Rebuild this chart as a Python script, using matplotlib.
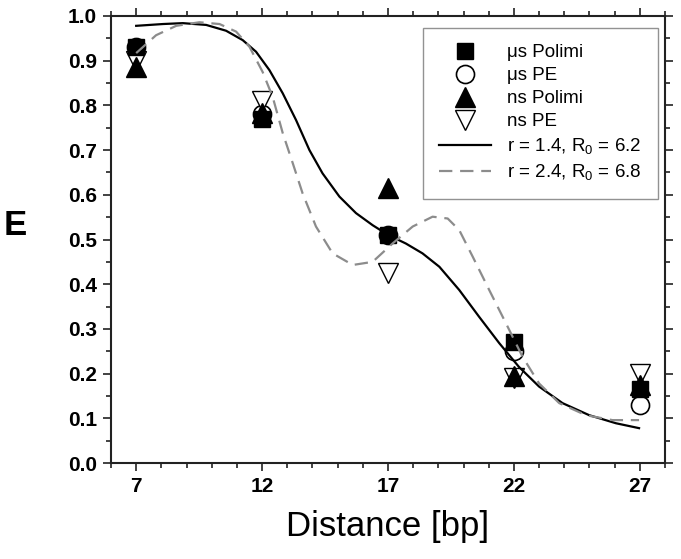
import numpy as np
import matplotlib
matplotlib.use("Agg")
import matplotlib.pyplot as plt
from matplotlib.ticker import MultipleLocator

plt.rcParams['font.family'] = ['Liberation Sans', 'DejaVu Sans']
plt.rcParams['mathtext.fontset'] = 'custom'
plt.rcParams['mathtext.rm'] = 'Liberation Sans'

# measured FRET efficiencies
distance = [7, 12, 17, 22, 27]
us_polimi = [0.93, 0.77, 0.51, 0.27, 0.165]
us_pe = [0.93, 0.78, 0.51, 0.25, 0.13]
ns_polimi = [0.885, 0.783, 0.615, 0.195, 0.175]
ns_pe = [0.90, 0.81, 0.425, 0.19, 0.20]

# model curves
fit1_x = [7, 8.06, 8.85, 9.78, 10.57, 11.23, 11.76, 12.29, 12.82, 13.35,
          13.88, 14.4, 15.07, 15.73, 16.39, 17.01, 17.71, 18.37, 19.04, 19.83,
          20.62, 21.42, 22.2, 23.0, 23.93, 24.99, 26.05, 26.97]
fit1_y = [0.978, 0.982, 0.984, 0.980, 0.967, 0.946, 0.920, 0.879, 0.827,
          0.767, 0.700, 0.648, 0.596, 0.559, 0.532, 0.510, 0.491, 0.469,
          0.439, 0.387, 0.327, 0.268, 0.215, 0.171, 0.134, 0.107, 0.089,
          0.078]
fit2_x = [7, 7.79, 8.59, 9.51, 10.31, 10.97, 11.5, 12.02, 12.42, 12.82, 13.21,
          13.61, 14.14, 14.8, 15.6, 16.39, 17.18, 17.98, 18.77, 19.37, 19.83,
          20.36, 21.02, 21.68, 22.34, 23.0, 23.8, 24.86, 25.91, 26.97]
fit2_y = [0.917, 0.957, 0.978, 0.986, 0.982, 0.965, 0.931, 0.875, 0.819,
          0.738, 0.672, 0.603, 0.529, 0.469, 0.443, 0.450, 0.491, 0.529,
          0.551, 0.547, 0.521, 0.462, 0.387, 0.313, 0.238, 0.178, 0.134,
          0.107, 0.096, 0.096]

fig = plt.figure(figsize=(6.81, 5.59), dpi=100)
ax = fig.add_axes([0.163, 0.1717, 0.8135, 0.7997])

ms = 13
ax.plot(distance, us_pe, 'o', ms=ms, mfc='white', mec='black', mew=1.2,
        ls='none', label='μs PE', zorder=3)
ax.plot(distance, ns_pe, 'v', ms=ms + 1, mfc='white', mec='black', mew=1.0,
        ls='none', label='ns PE', zorder=3)
ax.plot(distance, us_polimi, 's', ms=ms - 1, mfc='black', mec='black',
        ls='none', label='μs Polimi', zorder=4)
ax.plot(distance, ns_polimi, '^', ms=ms + 1, mfc='black', mec='black',
        ls='none', label='ns Polimi', zorder=4)
ax.plot(fit1_x, fit1_y, '-', color='black', lw=1.6,
        label=r'r = 1.4, R$_\mathregular{0}$ = 6.2', zorder=5)
ax.plot(fit2_x, fit2_y, '--', color='#8c8c8c', lw=1.6, dashes=(6, 3.5),
        label=r'r = 2.4, R$_\mathregular{0}$ = 6.8', zorder=5)

ax.set_xlim(6, 28)
ax.set_ylim(0, 1.0)
ax.xaxis.set_minor_locator(MultipleLocator(1))
ax.set_xticks([7, 12, 17, 22, 27])
ax.yaxis.set_major_locator(MultipleLocator(0.1))
ax.yaxis.set_minor_locator(MultipleLocator(0.05))
ax.yaxis.set_major_formatter(plt.FormatStrFormatter('%.1f'))

for s in ax.spines.values():
    s.set_linewidth(1.5)
    s.set_color('#222222')
ax.tick_params(which='both', direction='out', top=True, right=True,
               color='#222222', width=1.2)
ax.tick_params(which='major', length=6, labelsize=15, pad=4)
ax.tick_params(which='minor', length=3.5)
for lab in ax.get_xticklabels() + ax.get_yticklabels():
    lab.set_fontweight('bold')

ax.set_xlabel('Distance [bp]', fontsize=25, labelpad=10)
fig.text(0.022, 0.597, 'E', fontsize=25, fontweight='bold',
         ha='center', va='center')

h, l = ax.get_legend_handles_labels()
order = [2, 0, 3, 1, 4, 5]
leg = ax.legend([h[i] for i in order], [l[i] for i in order],
                loc='upper right', bbox_to_anchor=(0.987, 0.973),
                fontsize=13.5, numpoints=1, fancybox=False,
                handlelength=2.75, handletextpad=0.9, labelspacing=0.32,
                borderpad=0.85, borderaxespad=0)
leg.get_frame().set_edgecolor('#777777')
leg.get_frame().set_linewidth(1.0)

fig.savefig('out.png', dpi=100)
